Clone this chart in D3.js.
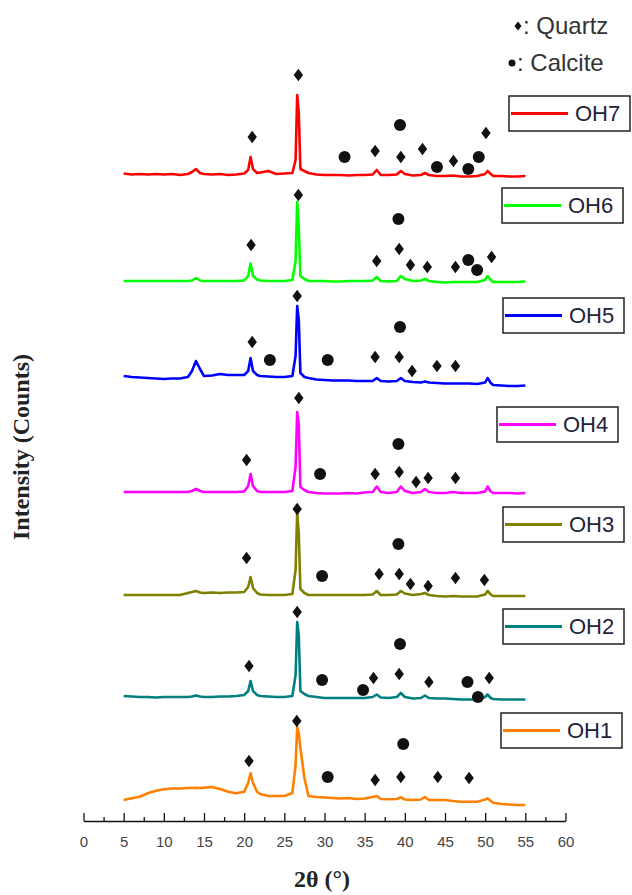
<!DOCTYPE html>
<html lang="en">
<head>
<meta charset="UTF-8">
<title>XRD patterns OH1 - OH7</title>
<style>
  body { margin: 0; background: #fff; }
  .trace { fill: none; stroke-width: 2.6; stroke-linejoin: round; }
  .axis path, .axis line { stroke: #111; stroke-width: 1.3; }
  .axis text { font-family: Arial, "Liberation Sans", sans-serif; font-size: 15px; fill: #444; }
  .title { font-family: "Times New Roman", "Liberation Serif", serif; font-weight: bold; fill: #222; }
  .legend text { font-family: Arial, "Liberation Sans", sans-serif; font-size: 22px; fill: #222238; }
  .key text { font-family: Arial, "Liberation Sans", sans-serif; font-size: 24px; fill: #333; }
</style>
</head>
<body>
<svg></svg>
<script src="https://d3js.org/d3.v7.min.js"></script>
<script>
// 2theta grid shared by all patterns
const twoTheta = [
  5, 6, 7, 8, 9, 10, 11, 12, 13,
  13.5, 14, 14.5, 15, 16, 17, 18, 19, 20,
  20.5, 20.8, 21.1, 21.6, 22, 23, 24, 25, 26,
  26.4, 26.6, 26.8, 27.0, 27.5, 28, 29, 30, 31,
  32, 33, 34, 35, 36, 36.5, 37, 38, 39,
  39.5, 40, 41, 42, 42.5, 43, 44, 45, 46,
  47, 48, 49, 50, 50.3, 50.7, 51, 52, 53, 54, 55
];

// intensities above each pattern's own baseline
const oh1 = [
  0, 1.7, 3.3, 6.7, 9.3, 10.7, 11.5, 11.5, 12,
  12, 12.3, 12, 12.3, 13, 11, 8.3, 6.7, 8.3,
  17, 26.7, 17, 8.3, 6, 4, 4, 4, 7,
  35, 73, 67, 52, 22, 4, 3, 2.5, 2,
  1.5, 2, 1, 1.5, 3, 4, 1, 0.7, 1,
  2.7, 0.5, 0, 0.5, 3, 0, 0, 0, -1,
  -1.7, -1.7, -1.7, 0.5, 1.7, -1, -2.7, -4, -4.5, -5, -5
];
const oh2 = [
  1, 0.5, 0, 0, -0.5, 0, 0, 0, 0,
  0.5, 1.5, 0.5, 0, 0, 0.5, 0.5, 1, 2,
  6, 16, 6, 2, 1, 0.5, 0, 0, 1,
  22, 75, 62, 6, 3, 1, 0, -1, -1,
  -1, -1, -1, -1, 0, 2.5, -0.5, -1, 0,
  4, 0, -1.5, -1, 1.5, -1, -1.5, -1.5, -2,
  -2.5, -2.5, -2.5, 0, 2.5, -1, -2, -2.5, -2.5, -2.5, -2.5
];
const oh3 = [
  0, 0, 0, 0, 0, 0, 0, 0, 2,
  3, 4, 2.5, 2, 2.5, 2, 2.5, 2.5, 3,
  8, 18, 7, 2, 0.5, 0, 0, 0, 1,
  25, 83, 61, 6, 2, 0, 0, 0, 0,
  0, 0, 0, 0, 0.5, 4, 0, 0, 0.5,
  4, 1.5, 0, 1, 2, 0, -1, -1.5, -1,
  -1.5, -1.5, -1.5, 0.5, 4, 0.5, -1, -1, -1, -1, -1
];
const oh4 = [
  0, 0, 0, 0, 0, 0, 0, 0, 0,
  1, 3, 1, 0, 0, 0, 0, 0, 0.5,
  6, 18, 6, 1, 0, 0, 0, 0, 1,
  25, 80, 67, 5, 2, 0, -1, -1.5, -1.5,
  -1.5, -1, -1.5, -0.5, 0, 5.5, 0, -1, 0,
  5.5, 1, -1, 0, 3, 0, -1, -1, 0,
  -1, -1, -1, 0.5, 5.5, 0.5, -1, -1, -1, -1.5, -1
];
const oh5 = [
  5, 4, 3.5, 3, 2.5, 2, 2.5, 2.5, 4,
  10, 20, 12, 5, 5.5, 7, 6, 6, 6,
  10, 23, 10, 6, 5, 4.5, 4, 4, 5,
  25, 75, 61, 8, 4, 3, 1.5, 1, 0.5,
  0.5, 0.5, 0, 0, 0, 3, 0, -0.5, 0,
  3, 0, -1, -1.5, -0.5, -1.5, -2, -2.5, -2.5,
  -2.5, -2.5, -3, -1.5, 3, -2, -4, -4.5, -5, -5, -4.5
];
const oh6 = [
  0, 0, 0, 0, 0, 0, 0, 0, 0,
  0.5, 3, 0.5, 0, 0, 0, 0, 0, 0.5,
  5, 17.5, 5, 1.5, 0.5, 0, 0, 0, 1,
  20, 79, 54, 5, 2, 0, 0, 0, -0.5,
  -0.5, 0, 0, 0, 0.5, 4, 0, -0.5, 0,
  5, 2, 0, 0.5, 2, 0, -1, -1.5, -1,
  -1, -1, -1, 1, 5, 1, -1, -1, -1, -1, -0.5
];
const oh7 = [
  1.5, 0.5, 1, 0.5, 1, 0.5, 1, 0, 1,
  3, 6, 2, 1, 0.5, 1, 0, 0.5, 1.5,
  5, 18, 6, 2, 2.5, 4, 1, 1.5, 2,
  15, 80, 62, 6, 4, 2, 0.5, 0, 0,
  0, -0.5, 0, 0, 0.5, 5, 0, 0, 0.5,
  4, 1, -0.5, 0, 2, 0, -1, -1, -0.5,
  -1.5, -1.5, -1, 1, 4, 1, -1, -1, -1.5, -1.5, -1
];

const names = ["OH1", "OH2", "OH3", "OH4", "OH5", "OH6", "OH7"];
const offsets = [21, 124, 226, 329, 440, 540, 646];   // stacking offset of each pattern
const colors = ["#ff8000", "#008080", "#808000", "#ff00ff", "#0000ff", "#00ff00", "#ff0000"];

// phase markers: [2theta, height above baseline]
const quartz = [
  [[26.55, 79], [20.6, 39], [36.3, 20], [39.5, 23], [44.1, 23], [48.0, 22]],
  [[26.6, 85], [20.6, 31], [36.1, 19], [39.3, 23], [43.0, 15], [50.5, 19]],
  [[26.6, 86], [20.3, 37], [36.8, 21], [39.3, 21], [40.7, 11], [42.9, 9], [46.3, 17], [49.9, 15]],
  [[26.8, 94], [20.3, 32], [36.3, 18], [39.3, 20], [41.4, 10], [42.9, 14], [46.3, 14]],
  [[26.6, 85], [21.0, 39], [36.3, 24], [39.3, 24], [40.9, 10], [44.0, 15], [46.3, 15]],
  [[26.75, 86], [20.86, 36], [36.5, 20], [39.3, 32], [40.7, 16], [42.8, 14], [46.3, 14], [50.8, 24]],
  [[26.75, 100], [21.0, 38], [36.3, 24], [39.5, 18], [42.2, 26], [46.05, 14], [50.1, 42]]
];
const calcite = [
  [[30.4, 23], [39.8, 56]],
  [[29.7, 17], [34.8, 7], [39.4, 53], [47.8, 15], [49.1, 0]],
  [[29.7, 19], [39.2, 51]],
  [[29.45, 18], [39.2, 48]],
  [[23.2, 21], [30.4, 21], [39.4, 54]],
  [[39.2, 62], [47.9, 21], [49.0, 11]],
  [[32.5, 18], [39.4, 50], [44.0, 8], [47.9, 6], [49.2, 18]]
];

const xTicks = d3.range(0, 61, 5);
const xMinor = d3.range(2.5, 60, 5);

// legend box corners (layout)
const legendPos = [[501, 713], [503, 609], [503, 507], [497, 407], [503, 298], [502, 188], [509, 96]];

const width = 632, height = 895;
const svg = d3.select("svg").attr("width", width).attr("height", height);

const x = d3.scaleLinear().domain([0, 60]).range([83.5, 565.5]);
const y = d3.scaleLinear().domain([0, 800]).range([821, 21]);

const series = names.map((name, i) => ({
  name: name,
  color: colors[i],
  offset: offsets[i],
  values: [oh1, oh2, oh3, oh4, oh5, oh6, oh7][i],
  quartz: quartz[i],
  calcite: calcite[i]
}));

const line = d3.line()
  .x(d => x(d[0]))
  .y(d => y(d[1]));

series.forEach(s => {
  svg.append("path")
    .attr("class", "trace")
    .attr("stroke", s.color)
    .attr("d", line(twoTheta.map((t, j) => [t, s.offset + s.values[j]])));
});

const diamond = "M0,-6.2L4.7,0L0,6.2L-4.7,0Z";

series.forEach(s => {
  svg.selectAll(null)
    .data(s.quartz)
    .enter()
    .append("path")
    .attr("d", diamond)
    .attr("fill", "#111")
    .attr("transform", d => "translate(" + x(d[0]) + "," + y(s.offset + d[1]) + ")");
  svg.selectAll(null)
    .data(s.calcite)
    .enter()
    .append("circle")
    .attr("r", 6)
    .attr("fill", "#111")
    .attr("cx", d => x(d[0]))
    .attr("cy", d => y(s.offset + d[1]));
});

// x axis, ticks pointing up
svg.append("g")
  .attr("class", "axis")
  .attr("transform", "translate(0," + y(0) + ")")
  .call(d3.axisBottom(x).tickValues(xTicks).tickSize(-8).tickSizeOuter(0).tickPadding(15));
svg.append("g")
  .attr("class", "axis")
  .attr("transform", "translate(0," + y(0) + ")")
  .call(d3.axisBottom(x).tickValues(xMinor).tickSize(-4).tickSizeOuter(0).tickFormat(""))
  .select(".domain").remove();

svg.append("text")
  .attr("class", "title")
  .attr("x", 322)
  .attr("y", 887)
  .attr("text-anchor", "middle")
  .attr("font-size", 24)
  .text("2θ (°)");

svg.append("text")
  .attr("class", "title")
  .attr("transform", "translate(29,447) rotate(-90)")
  .attr("text-anchor", "middle")
  .attr("font-size", 24)
  .text("Intensity (Counts)");

// series legend boxes
const legend = svg.selectAll(".legend")
  .data(series)
  .enter()
  .append("g")
  .attr("class", "legend")
  .attr("transform", (d, i) => "translate(" + legendPos[i][0] + "," + legendPos[i][1] + ")");
legend.append("rect")
  .attr("width", 121).attr("height", 35)
  .attr("fill", "#fff").attr("stroke", "#222").attr("stroke-width", 1.5);
legend.append("line")
  .attr("x1", 2).attr("x2", 59).attr("y1", 17.5).attr("y2", 17.5)
  .attr("stroke", d => d.color).attr("stroke-width", 3);
legend.append("text")
  .attr("x", 66).attr("y", 17.5)
  .attr("dominant-baseline", "central")
  .text(d => d.name);

// phase key
const key = svg.append("g").attr("class", "key");
key.append("path").attr("d", "M0,-4.5L3.5,0L0,4.5L-3.5,0Z").attr("fill", "#111")
  .attr("transform", "translate(518,26)");
key.append("text").attr("x", 523).attr("y", 34).text(": Quartz");
key.append("circle").attr("cx", 512).attr("cy", 63).attr("r", 3.5).attr("fill", "#111");
key.append("text").attr("x", 517).attr("y", 71).text(": Calcite");
</script>
</body>
</html>
